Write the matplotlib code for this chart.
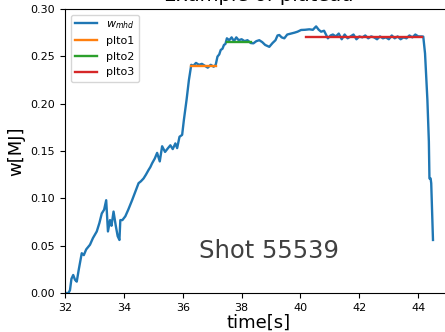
import matplotlib
matplotlib.use("Agg")
import matplotlib.pyplot as plt
import numpy as np

# W_mhd trace (time [s], energy [MJ])
t_mhd = [32.00, 32.07, 32.12, 32.17, 32.22, 32.28, 32.34, 32.40, 32.47, 32.57, 32.64, 32.72,
         32.85, 32.95, 33.08, 33.17, 33.25, 33.33, 33.40, 33.46, 33.53, 33.58, 33.65, 33.72,
         33.79, 33.85, 33.88, 33.95, 34.05, 34.15, 34.28, 34.40, 34.50, 34.58, 34.67, 34.75,
         34.84, 34.90, 34.96, 35.05, 35.13, 35.22, 35.30, 35.40, 35.50, 35.58, 35.66, 35.75,
         35.81, 35.89, 35.98, 36.04, 36.13, 36.21, 36.29, 36.36, 36.45, 36.55, 36.65, 36.75,
         36.85, 36.95, 37.05, 37.12, 37.18, 37.24, 37.29, 37.35, 37.40, 37.45, 37.50, 37.58,
         37.66, 37.74, 37.82, 37.90, 38.00, 38.10, 38.20, 38.31, 38.40, 38.50, 38.60, 38.70,
         38.80, 38.94, 39.05, 39.15, 39.22, 39.28, 39.36, 39.45, 39.55, 39.68, 39.80, 39.90,
         40.02, 40.15, 40.30, 40.42, 40.53, 40.62, 40.70, 40.80, 40.93, 41.02, 41.10, 41.20,
         41.30, 41.40, 41.50, 41.60, 41.70, 41.80, 41.90, 42.00, 42.10, 42.20, 42.30, 42.40,
         42.50, 42.60, 42.70, 42.80, 42.90, 43.00, 43.10, 43.20, 43.30, 43.40, 43.50, 43.60,
         43.70, 43.80, 43.90, 44.00, 44.10, 44.17, 44.23, 44.31, 44.36, 44.38, 44.42, 44.44,
         44.50]
w_mhd = [0.000, 0.000, 0.000, 0.003, 0.015, 0.019, 0.014, 0.012, 0.025, 0.042, 0.040, 0.046,
         0.051, 0.058, 0.065, 0.074, 0.084, 0.088, 0.098, 0.065, 0.077, 0.071, 0.086, 0.072,
         0.060, 0.056, 0.077, 0.077, 0.081, 0.088, 0.098, 0.108, 0.116, 0.118, 0.121, 0.125,
         0.130, 0.133, 0.137, 0.142, 0.148, 0.139, 0.155, 0.149, 0.153, 0.156, 0.152, 0.158,
         0.153, 0.165, 0.167, 0.183, 0.204, 0.225, 0.241, 0.240, 0.243, 0.241, 0.242, 0.240,
         0.238, 0.241, 0.239, 0.241, 0.2497, 0.252, 0.2567, 0.258, 0.262, 0.263, 0.269, 0.267,
         0.270, 0.266, 0.270, 0.267, 0.268, 0.266, 0.267, 0.264, 0.2637, 0.266, 0.267, 0.265,
         0.262, 0.260, 0.264, 0.267, 0.272, 0.2725, 0.270, 0.269, 0.273, 0.274, 0.275, 0.276,
         0.2778, 0.278, 0.2785, 0.278, 0.2816, 0.278, 0.276, 0.277, 0.269, 0.272, 0.273, 0.271,
         0.274, 0.268, 0.273, 0.269, 0.271, 0.273, 0.268, 0.271, 0.270, 0.272, 0.269, 0.271,
         0.270, 0.268, 0.271, 0.269, 0.270, 0.268, 0.272, 0.269, 0.271, 0.268, 0.270, 0.269,
         0.272, 0.270, 0.273, 0.271, 0.271, 0.2708, 0.253, 0.204, 0.160, 0.121, 0.121, 0.116,
         0.056]

# plateau segments: (start, end, level)
plto1 = (36.29, 37.12, 0.2398)
plto2 = (37.50, 38.31, 0.2655)
plto3 = (40.19, 44.12, 0.2708)

fig = plt.figure(figsize=(4.45, 3.32), dpi=100)
ax = fig.add_axes([0.146, 0.1175, 0.87, 0.8555])

ax.plot(t_mhd, w_mhd, color="#1f77b4", lw=1.7, label=r"$w_{mhd}$")
ax.plot([plto1[0], plto1[1]], [plto1[2], plto1[2]], color="#ff7f0e", lw=1.7, label="plto1")
ax.plot([plto2[0], plto2[1]], [plto2[2], plto2[2]], color="#2ca02c", lw=1.7, label="plto2")
ax.plot([plto3[0], plto3[1]], [plto3[2], plto3[2]], color="#d62728", lw=1.7, label="plto3")

ax.set_xlim(32, 45.15)
ax.set_ylim(0, 0.30)
ax.set_xticks([32, 34, 36, 38, 40, 42, 44])
ax.set_yticks([0.00, 0.05, 0.10, 0.15, 0.20, 0.25, 0.30])
ax.set_yticklabels(["0.00", "0.05", "0.10", "0.15", "0.20", "0.25", "0.30"])
ax.tick_params(labelsize=8)
ax.set_xlabel("time[s]", fontsize=13, labelpad=1)
ax.set_ylabel("w[MJ]", fontsize=13)
ax.set_title("Example of plateau", fontsize=14)
ax.legend(loc="upper left", fontsize=8)
ax.text(0.528, 0.148, "Shot 55539", transform=ax.transAxes, ha="center", va="center",
        fontsize=17.5, color="#404040")

fig.savefig("out.png", dpi=100)
